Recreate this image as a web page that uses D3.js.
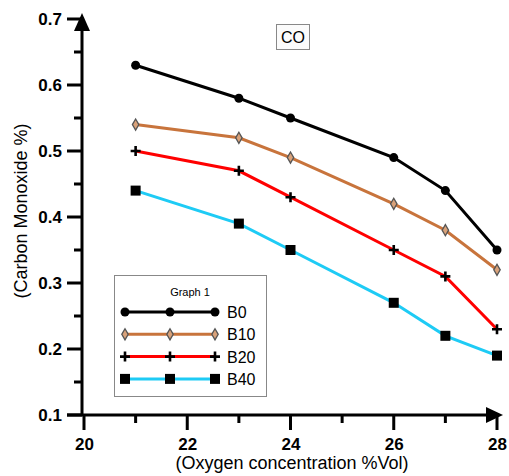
<!DOCTYPE html>
<html>
<head>
<meta charset="utf-8">
<script src="https://cdn.jsdelivr.net/npm/d3@7"></script>
<style>
  body { margin: 0; background: #fff; }
  svg { font-family: "Liberation Sans", Arial, sans-serif; }
</style>
</head>
<body>
<svg class="chart" width="509" height="476"></svg>
<script>
// data
var oxygen = [21, 23, 24, 26, 27, 28];
var seriesNames = ["B0", "B10", "B20", "B40"];
var b0  = [0.63, 0.58, 0.55, 0.49, 0.44, 0.35];
var b10 = [0.54, 0.52, 0.49, 0.42, 0.38, 0.32];
var b20 = [0.50, 0.47, 0.43, 0.35, 0.31, 0.23];
var b40 = [0.44, 0.39, 0.35, 0.27, 0.22, 0.19];
var xTicks = [20, 22, 24, 26, 28];
var xMinor = [21, 23, 25, 27];
var yTicks = [0.1, 0.2, 0.3, 0.4, 0.5, 0.6, 0.7];
var yMinor = [0.15, 0.25, 0.35, 0.45, 0.55, 0.65];

var svg = d3.select("svg.chart");

var x = d3.scaleLinear().domain([20, 28]).range([84, 497]);
var y = d3.scaleLinear().domain([0.1, 0.7]).range([415, 19]);
var axisX = 82;

var colors = { B0: "#000000", B10: "#c8743c", B20: "#ff0000", B40: "#1ecbf5" };
var values = { B0: b0, B10: b10, B20: b20, B40: b40 };

// y axis: labels from d3, line + ticks as one path
var gy = svg.append("g").attr("transform", "translate(" + axisX + ",0)");
gy.call(d3.axisLeft(y).tickValues(yTicks).tickSize(15).tickSizeOuter(0).tickPadding(5).tickFormat(d3.format(".1f")));
gy.select(".domain").remove();
gy.selectAll(".tick line").remove();
gy.selectAll("text").attr("font-size", 17).attr("font-weight", "bold").attr("fill", "#000")
  .attr("font-family", "Liberation Sans, Arial, sans-serif");
var yPath = "M0," + y(0.1) + "V" + (y(0.7) - 2);
yTicks.forEach(function(t) { yPath += "M-15," + y(t) + "H0"; });
yMinor.forEach(function(t) { yPath += "M-8," + y(t) + "H0"; });
gy.append("path").attr("d", yPath).attr("fill", "none")
  .attr("stroke", "#000").attr("stroke-width", 3);
gy.append("path").attr("d", "M0,13L8,31L-8,31Z").attr("fill", "#000");

// x axis
var gx = svg.append("g").attr("transform", "translate(0," + y(0.1) + ")");
gx.call(d3.axisBottom(x).tickValues(xTicks).tickSize(14).tickSizeOuter(0).tickPadding(9).tickFormat(d3.format("d")));
gx.select(".domain").remove();
gx.selectAll(".tick line").remove();
gx.selectAll("text").attr("font-size", 17).attr("font-weight", "bold").attr("fill", "#000")
  .attr("font-family", "Liberation Sans, Arial, sans-serif");
var xPath = "M67,0H495";
xTicks.forEach(function(t) { xPath += "M" + x(t) + ",0V15"; });
xMinor.forEach(function(t) { xPath += "M" + x(t) + ",0V8"; });
gx.append("path").attr("d", xPath).attr("fill", "none")
  .attr("stroke", "#000").attr("stroke-width", 3);
gx.append("path").attr("d", "M503,0L486,-8L486,8Z").attr("fill", "#000");

// axis titles
svg.append("text")
  .attr("x", 292).attr("y", 469)
  .attr("text-anchor", "middle")
  .attr("font-size", 18)
  .text("(Oxygen concentration %Vol)");

svg.append("text")
  .attr("transform", "translate(27,211) rotate(-90)")
  .attr("text-anchor", "middle")
  .attr("font-size", 18)
  .text("(Carbon Monoxide %)");

// marker drawing
function marker(sel, name) {
  if (name === "B0") {
    sel.append("circle").attr("r", 4.5).attr("fill", "#000");
  } else if (name === "B10") {
    sel.append("path").attr("d", d3.symbol(d3.symbolDiamond, 36)())
      .attr("fill", "#d9a27a").attr("stroke", "#555").attr("stroke-width", 1.3);
  } else if (name === "B20") {
    sel.append("path").attr("d", "M-5,0H5M0,-5V5").attr("stroke", "#000").attr("stroke-width", 2.6);
  } else {
    sel.append("rect").attr("x", -5).attr("y", -5).attr("width", 10).attr("height", 10).attr("fill", "#000");
  }
}

var line = d3.line().x(function(d) { return x(d[0]); }).y(function(d) { return y(d[1]); });

seriesNames.forEach(function(name) {
  var pts = oxygen.map(function(o, i) { return [o, values[name][i]]; });
  svg.append("path")
    .datum(pts)
    .attr("fill", "none")
    .attr("stroke", colors[name])
    .attr("stroke-width", 3)
    .attr("d", line);
  svg.append("g").selectAll("g")
    .data(pts)
    .enter().append("g")
      .attr("transform", function(d) { return "translate(" + x(d[0]) + "," + y(d[1]) + ")"; })
      .each(function() { marker(d3.select(this), name); });
});

// CO label
svg.append("rect").attr("x", 276.5).attr("y", 24.5).attr("width", 33).attr("height", 25)
  .attr("fill", "#fbfbfb").attr("stroke", "#888").attr("stroke-width", 1);
svg.append("text").attr("x", 293).attr("y", 43).attr("text-anchor", "middle")
  .attr("font-size", 16).text("CO");

// legend
var legend = svg.append("g");
legend.append("rect").attr("x", 114.5).attr("y", 275.5).attr("width", 152).attr("height", 121)
  .attr("fill", "#fff").attr("stroke", "#888").attr("stroke-width", 1);
legend.append("text").attr("x", 190).attr("y", 296).attr("text-anchor", "middle")
  .attr("font-size", 11).text("Graph 1");

var rows = legend.selectAll("g.row")
  .data(seriesNames)
  .enter().append("g")
    .attr("class", "row")
    .attr("transform", function(d, i) { return "translate(0," + (312 + i * 22.3) + ")"; });

rows.append("line").attr("x1", 125).attr("x2", 215)
  .attr("stroke", function(d) { return colors[d]; }).attr("stroke-width", 3);
rows.each(function(name) {
  var r = d3.select(this);
  [125, 170, 215].forEach(function(px) {
    marker(r.append("g").attr("transform", "translate(" + px + ",0)"), name);
  });
});
rows.append("text").attr("x", 227).attr("y", 6).attr("font-size", 16)
  .text(function(d) { return d; });
</script>
</body>
</html>
